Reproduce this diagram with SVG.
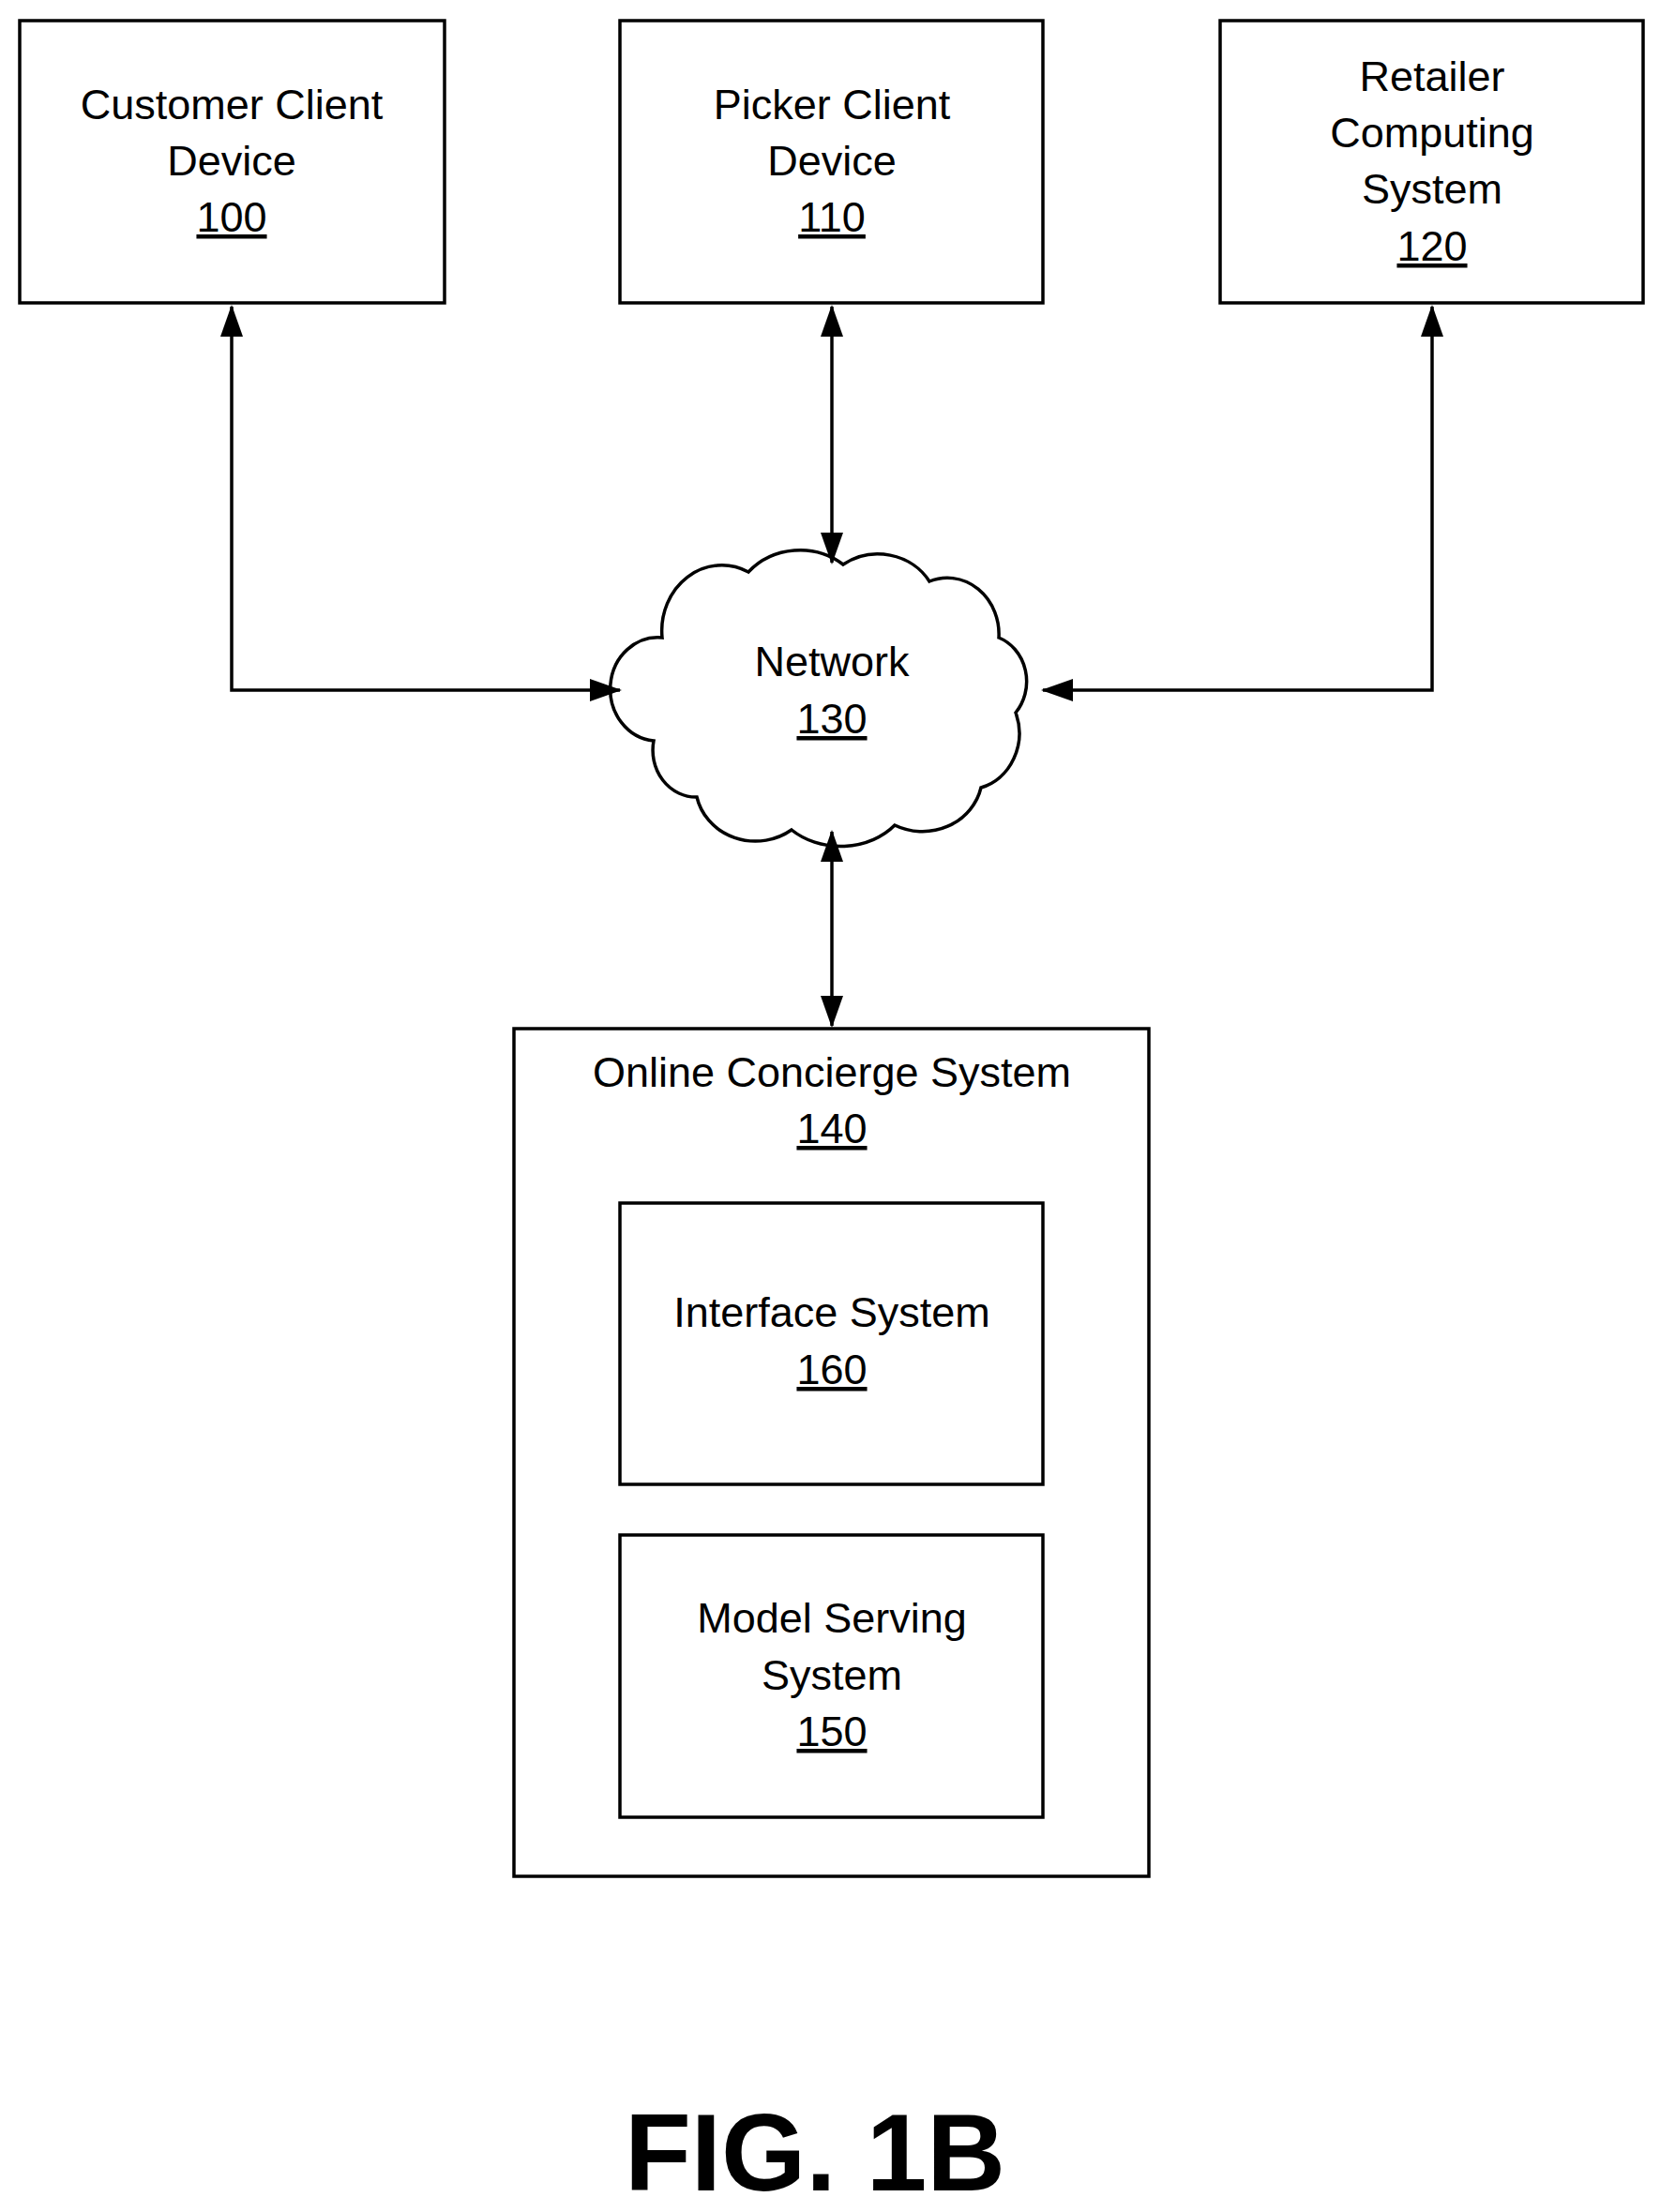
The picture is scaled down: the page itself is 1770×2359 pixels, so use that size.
<svg xmlns="http://www.w3.org/2000/svg" width="1770" height="2359" viewBox="0 0 1770 2359">
<style>
.b{fill:#fff;stroke:#000;stroke-width:3.5}
.t{font-family:"Liberation Sans",Arial,sans-serif;font-size:45px;text-anchor:middle;fill:#000}
.u{text-decoration:underline}
.c{fill:none;stroke:#000;stroke-width:3.5}
</style>
<defs>
<marker id="m" markerWidth="34" markerHeight="24" refX="32" refY="12" orient="auto-start-reverse" markerUnits="userSpaceOnUse"><path d="M0,0 L34,12 L0,24 Z" fill="#000"/></marker>
</defs>
<rect width="1770" height="2359" fill="#fff"/>
<g id="n130"><path class="b" d="M706,680 A64,70 0 0 1 798,610 A74,70 0 0 1 899,602 A64,60 0 0 1 991,620 A55,60 0 0 1 1065,680 A46,50 0 0 1 1083,760 A55,60 0 0 1 1046,840 A64,60 0 0 1 954,880 A74,60 0 0 1 844,885 A64,60 0 0 1 743,850 A46,50 0 0 1 697,790 A46,50 0 0 1 706,680 Z"/>
<text class="t" x="887" y="721">Network</text><text class="t u" x="887" y="782">130</text></g>
<g id="connectors">
<polyline class="c" points="247,327 247,736 661,736" marker-start="url(#m)" marker-end="url(#m)"/>
<polyline class="c" points="1527,327 1527,736 1112,736" marker-start="url(#m)" marker-end="url(#m)"/>
<line class="c" x1="887" y1="327" x2="887" y2="600" marker-start="url(#m)" marker-end="url(#m)"/>
<line class="c" x1="887" y1="887" x2="887" y2="1094" marker-start="url(#m)" marker-end="url(#m)"/>
</g>
<g id="n100"><rect class="b" x="21" y="22" width="453" height="301"/>
<text class="t" x="247" y="127">Customer Client</text><text class="t" x="247" y="187">Device</text><text class="t u" x="247" y="247">100</text></g>
<g id="n110"><rect class="b" x="661" y="22" width="451" height="301"/>
<text class="t" x="887" y="127">Picker Client</text><text class="t" x="887" y="187">Device</text><text class="t u" x="887" y="247">110</text></g>
<g id="n120"><rect class="b" x="1301" y="22" width="451" height="301"/>
<text class="t" x="1527" y="97">Retailer</text><text class="t" x="1527" y="157">Computing</text><text class="t" x="1527" y="217">System</text><text class="t u" x="1527" y="278">120</text></g>
<g id="n140"><rect class="b" x="548" y="1097" width="677" height="904"/>
<text class="t" x="887" y="1159">Online Concierge System</text><text class="t u" x="887" y="1219">140</text></g>
<g id="n160"><rect class="b" x="661" y="1283" width="451" height="300"/>
<text class="t" x="887" y="1415">Interface System</text><text class="t u" x="887" y="1476">160</text></g>
<g id="n150"><rect class="b" x="661" y="1637" width="451" height="301"/>
<text class="t" x="887" y="1741">Model Serving</text><text class="t" x="887" y="1802">System</text><text class="t u" x="887" y="1862">150</text></g>
<text x="869" y="2336" font-family="Liberation Sans,Arial,sans-serif" font-size="116" font-weight="bold" text-anchor="middle">FIG. 1B</text>
</svg>
